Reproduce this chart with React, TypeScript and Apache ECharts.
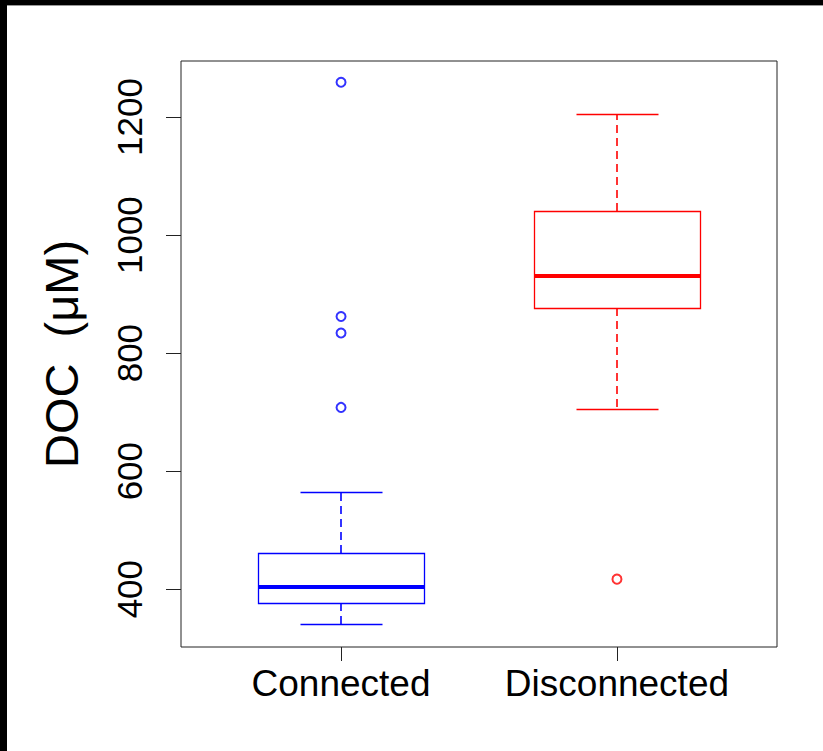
import React, { useEffect, useRef } from "react";
import * as echarts from "echarts";

// Categories and box statistics
const categories = ["Connected", "Disconnected"];
const boxColors = ["#0000FF", "#FF0000"];
const whiskerLow = [341, 705];
const quartile1 = [376, 876];
const medians = [403, 930];
const quartile3 = [461, 1041];
const whiskerHigh = [565, 1205];
const outliersConnected = [708, 834, 862, 1259];
const outliersDisconnected = [417];
const yTicks = [400, 600, 800, 1000, 1200];

const FONT = "'Liberation Sans', Arial, sans-serif";

export default function App() {
  const ref = useRef<HTMLDivElement>(null);

  useEffect(() => {
    if (!ref.current) return;
    const chart = echarts.init(ref.current, undefined, { renderer: "svg" });

    const boxData = categories.map((_, i) => [
      i + 1,
      whiskerLow[i],
      quartile1[i],
      medians[i],
      quartile3[i],
      whiskerHigh[i],
    ]);

    const crisp = (v: number) => Math.round(v) + 0.5;

    // dashed vertical segment built from short solid pieces (R lty = 2 look)
    const dashedSegments = (x: number, yFrom: number, yTo: number, color: string) => {
      const pieces: any[] = [];
      const dir = yTo > yFrom ? 1 : -1;
      const total = Math.abs(yTo - yFrom);
      const dash = 8;
      const gap = 5;
      for (let s = 0; s < total; s += dash + gap) {
        const e = Math.min(s + dash, total);
        pieces.push({
          type: "line",
          shape: { x1: x, y1: yFrom + dir * s, x2: x, y2: yFrom + dir * e },
          style: { stroke: color, lineWidth: 1.6, lineCap: "butt" },
        });
      }
      return pieces;
    };

    const renderItem = (params: any, api: any) => {
      const x = api.value(0);
      const idx = params.dataIndex;
      const color = boxColors[idx];
      const lo = api.coord([x, api.value(1)]);
      const q1 = api.coord([x, api.value(2)]);
      const md = api.coord([x, api.value(3)]);
      const q3 = api.coord([x, api.value(4)]);
      const hi = api.coord([x, api.value(5)]);
      const left = api.coord([x - 0.3, 0])[0];
      const right = api.coord([x + 0.3, 0])[0];
      const capL = api.coord([x - 0.15, 0])[0];
      const capR = api.coord([x + 0.15, 0])[0];
      const cx = Math.round(lo[0]);
      return {
        type: "group",
        children: [
          ...dashedSegments(cx, Math.round(q3[1]), Math.round(hi[1]), color),
          ...dashedSegments(cx, Math.round(q1[1]), Math.round(lo[1]), color),
          {
            type: "line",
            shape: { x1: crisp(capL), y1: crisp(hi[1]), x2: crisp(capR), y2: crisp(hi[1]) },
            style: { stroke: color, lineWidth: 1.3 },
          },
          {
            type: "line",
            shape: { x1: crisp(capL), y1: crisp(lo[1]), x2: crisp(capR), y2: crisp(lo[1]) },
            style: { stroke: color, lineWidth: 1.3 },
          },
          {
            type: "rect",
            shape: {
              x: crisp(left),
              y: crisp(q3[1]),
              width: Math.round(right) - Math.round(left),
              height: Math.round(q1[1]) - Math.round(q3[1]),
            },
            style: { stroke: color, lineWidth: 1.3, fill: null },
          },
          {
            type: "line",
            shape: { x1: crisp(left), y1: Math.round(md[1]), x2: crisp(right), y2: Math.round(md[1]) },
            style: { stroke: color, lineWidth: 4 },
          },
        ],
      };
    };

    chart.setOption({
      animation: false,
      backgroundColor: "#FFFFFF",
      grid: {
        left: 181,
        top: 61,
        right: 46,
        bottom: 104,
        show: true,
        borderColor: "#222",
        borderWidth: 1,
        backgroundColor: "transparent",
      },
      xAxis: {
        type: "value",
        min: 0.42,
        max: 2.58,
        axisLine: { show: false },
        splitLine: { show: false },
        axisTick: {
          show: true,
          length: 14,
          customValues: [1, 2],
          lineStyle: { color: "#222", width: 1 },
        },
        axisLabel: {
          customValues: [1, 2],
          formatter: (v: number) => categories[Math.round(v) - 1] ?? "",
          color: "#000",
          fontFamily: FONT,
          fontSize: 37,
          margin: 18,
        },
      },
      yAxis: {
        type: "value",
        min: 302,
        max: 1295,
        name: "DOC  (μM)",
        nameLocation: "middle",
        nameRotate: 90,
        nameGap: 96,
        nameTextStyle: { color: "#000", fontFamily: FONT, fontSize: 47 },
        axisLine: { show: false },
        splitLine: { show: false },
        axisTick: {
          show: true,
          length: 15,
          customValues: yTicks,
          lineStyle: { color: "#222", width: 1 },
        },
        axisLabel: {
          customValues: yTicks,
          rotate: 90,
          formatter: (v: number) => String(v),
          color: "#000",
          fontFamily: FONT,
          fontSize: 35,
          margin: 34,
        },
      },
      graphic: [
        { type: "rect", left: 0, top: 0, shape: { width: 823, height: 5 }, style: { fill: "#000" }, z: 100 },
        { type: "rect", left: 0, top: 5, shape: { width: 823, height: 1 }, style: { fill: "#999" }, z: 100 },
        { type: "rect", left: 0, top: 0, shape: { width: 7, height: 751 }, style: { fill: "#000" }, z: 101 },
      ],
      series: [
        {
          type: "custom",
          renderItem,
          data: boxData,
          encode: { x: 0, y: [1, 2, 3, 4, 5] },
          clip: false,
        },
        {
          type: "scatter",
          symbol: "emptyCircle",
          symbolSize: 9,
          itemStyle: { color: boxColors[0], borderColor: boxColors[0], borderWidth: 1.2 },
          data: outliersConnected.map((v) => [1, v]),
        },
        {
          type: "scatter",
          symbol: "emptyCircle",
          symbolSize: 9,
          itemStyle: { color: boxColors[1], borderColor: boxColors[1], borderWidth: 1.2 },
          data: outliersDisconnected.map((v) => [2, v]),
        },
      ],
    });

    return () => chart.dispose();
  }, []);

  return (
    <div
      ref={ref}
      style={{ position: "fixed", left: 0, top: 0, width: 823, height: 751, background: "#fff" }}
    />
  );
}
